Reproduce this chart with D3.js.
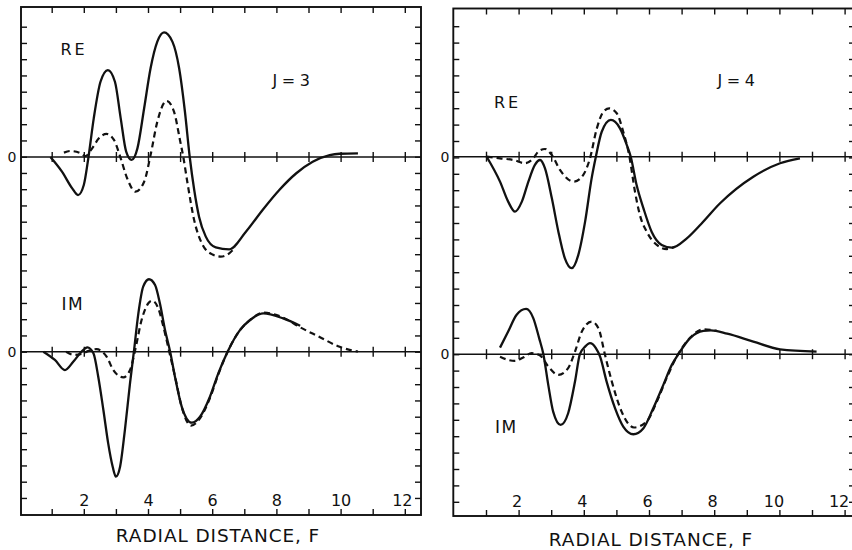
<!DOCTYPE html>
<html>
<head>
<meta charset="utf-8">
<script src="https://cdn.jsdelivr.net/npm/d3@7"></script>
<style>
  body { margin: 0; background: #fff; }
  svg { display: block; font-family: "DejaVu Sans", "Liberation Sans", sans-serif; }
  .domain { display: none; }
  .tick line { stroke: #111; stroke-width: 1.4; }
  .tick text { font-size: 16px; fill: #111; font-family: "DejaVu Sans", "Liberation Sans", sans-serif; }
</style>
</head>
<body>
<div id="wrapper"></div>
<script>

// 1. Data (x = radial distance in F, y = amplitude in tick units)

const xTickValues = [1, 2, 3, 4, 5, 6, 7, 8, 9, 10, 11, 12]
const xTickLabels = ["", "2", "", "4", "", "6", "", "8", "", "10", "", "12"]
const yTickValues = [-10, -9, -8, -7, -6, -5, -4, -3, -2, -1, 0, 1, 2, 3, 4, 5, 6, 7, 8, 9, 10,
                     11, 12, 13, 14, 15, 16, 17, 18, 19, 20, 21]
const panelTitles = ["J=3", "J=4"]
const partLabels = ["RE", "IM"]
const axisTitle = "RADIAL DISTANCE, F"

const j3ReSolid = [[0.96,0],[1.32,-0.9],[1.64,-1.93],[1.82,-2.34],[2.0,-1.72],[2.14,-0.08],[2.31,2.38],
  [2.52,4.63],[2.75,5.35],[2.97,4.63],[3.15,2.38],[3.32,0.33],[3.49,-0.18],[3.67,0.53],[3.88,3.0],
  [4.08,5.46],[4.29,7.1],[4.5,7.67],[4.76,7.1],[4.97,5.46],[5.15,2.8],[5.3,0],[5.44,-2.03],
  [5.59,-3.67],[5.8,-4.9],[6.11,-5.56],[6.53,-5.68],[7.05,-4.6],[7.57,-3.26],[8.09,-2.03],
  [8.62,-1.0],[9.13,-0.29],[9.66,0.12],[9.97,0.2],[10.54,0.22]]
const j3ReDashed = [[1.38,0.27],[1.58,0.37],[1.9,0.23],[2.05,0.06],[2.26,0.53],[2.47,1.15],
  [2.71,1.42],[2.94,1.05],[3.15,-0.08],[3.35,-1.31],[3.61,-2.13],[3.88,-1.52],[4.08,0.12],
  [4.29,2.17],[4.58,3.45],[4.81,2.79],[5.0,1.0],[5.1,0],[5.23,-1.6],[5.44,-3.9],[5.7,-5.4],
  [6.01,-6.0],[6.27,-6.13],[6.53,-5.93],[6.72,-5.55]]
const j3ImSolid = [[0.74,0],[1.1,-0.51],[1.41,-1.13],[1.67,-0.62],[1.93,0],[2.11,0.27],[2.3,-0.1],
  [2.45,-1.54],[2.61,-3.59],[2.76,-5.64],[2.9,-7.08],[3.0,-7.69],[3.13,-7.08],[3.28,-4.82],
  [3.44,-1.94],[3.56,0],[3.7,2.36],[3.85,4.0],[4.03,4.46],[4.22,4.1],[4.37,2.98],[4.53,1.34],
  [4.69,0],[4.84,-1.54],[5.05,-3.38],[5.36,-4.37],[5.62,-4.0],[5.93,-2.77],[6.19,-1.33],
  [6.48,0],[6.87,1.34],[7.18,1.95],[7.59,2.36],[8.21,2.05],[8.74,1.6]]
const j3ImDashed = [[1.45,0],[1.7,-0.2],[1.95,-0.12],[2.15,0.05],[2.4,0.16],[2.6,-0.05],
  [2.71,-0.3],[2.92,-1.13],[3.23,-1.58],[3.44,-1.13],[3.6,0.1],[3.8,1.95],[4.01,2.98],
  [4.13,3.14],[4.32,2.67],[4.48,1.54],[4.65,0.1],[4.84,-1.5],[5.05,-3.4],[5.34,-4.55],
  [5.62,-4.1],[5.93,-2.85],[6.19,-1.4],[6.48,0],[6.87,1.34],[7.18,1.95],[7.59,2.4],
  [8.21,2.1],[8.74,1.5],[9.3,0.95],[9.97,0.3],[10.54,0]]

const j4ReSolid = [[1.02,0],[1.43,-1.52],[1.68,-2.74],[1.89,-3.35],[2.1,-2.74],[2.3,-1.52],
  [2.5,-0.5],[2.66,-0.2],[2.81,-0.71],[3.02,-2.54],[3.22,-4.57],[3.42,-6.2],[3.63,-6.8],
  [3.83,-6.0],[4.04,-3.96],[4.24,-1.32],[4.37,0],[4.55,1.52],[4.83,2.24],[5.11,1.73],
  [5.32,0.71],[5.44,0],[5.62,-1.73],[5.83,-3.15],[6.08,-4.57],[6.39,-5.38],[6.7,-5.55],
  [7.16,-4.98],[7.6,-4.1],[8.18,-2.84],[9.2,-1.22],[10.02,-0.4],[10.63,-0.1]]
const j4ReDashed = [[1.02,0],[1.43,-0.1],[1.84,-0.2],[2.2,-0.4],[2.45,-0.1],[2.6,0.3],[2.81,0.47],
  [3.02,0.1],[3.27,-0.81],[3.7,-1.52],[3.98,-1.12],[4.19,-0.1],[4.4,1.73],[4.6,2.74],[4.78,2.95],
  [5.01,2.65],[5.21,1.52],[5.4,0],[5.57,-2.13],[5.72,-3.55],[5.93,-4.57],[6.24,-5.38],
  [6.54,-5.63],[6.8,-5.49]]
const j4ImSolid = [[1.43,0.4],[1.68,1.38],[1.94,2.4],[2.23,2.76],[2.45,2.2],[2.63,0.98],[2.76,0],
  [2.91,-1.87],[3.06,-3.5],[3.29,-4.31],[3.52,-3.6],[3.73,-1.67],[3.88,0],[4.04,0.46],
  [4.19,0.67],[4.37,0.37],[4.5,-0.15],[4.7,-1.67],[4.96,-3.3],[5.21,-4.41],[5.52,-4.88],
  [5.83,-4.51],[6.13,-3.3],[6.44,-1.87],[6.7,-0.65],[6.9,0],[7.26,0.98],[7.67,1.42],
  [7.9,1.45],[8.4,1.25],[9.2,0.77],[10.02,0.3],[11.14,0.16]]
const j4ImDashed = [[1.43,-0.15],[1.68,-0.35],[1.89,-0.41],[2.14,-0.2],[2.4,0.06],[2.66,-0.08],
  [2.91,-0.75],[3.22,-1.26],[3.52,-0.85],[3.73,0.16],[3.94,1.38],[4.24,1.99],[4.45,1.58],
  [4.65,-0.04],[4.86,-1.67],[5.16,-3.5],[5.54,-4.47],[5.93,-4.1],[6.24,-2.89],[6.54,-1.46],
  [6.85,-0.15],[7.26,1.0],[7.67,1.52],[8.08,1.42]]

// 2. Dimensions

const width = 852
const height = 550

const panels = [
  {
    title: panelTitles[0], re: [j3ReSolid, j3ReDashed], im: [j3ImSolid, j3ImDashed],
    left: 21, right: 421, top: 7, bottom: 515,
    xStart: 19.6, xUnit: 32.1, zeroRe: 157, zeroIm: 351.7, yUnit: 16.25,
    titlePos: [272.5, 86], rePos: [60.5, 55], imPos: [61.5, 310],
    zeroX: 12, axisTitlePos: [218, 541.5],
    labelShift: d => d === 12 ? -3 : 0,
  },
  {
    title: panelTitles[1], re: [j4ReSolid, j4ReDashed], im: [j4ImSolid, j4ImDashed],
    left: 453.3, right: 855, top: 8.5, bottom: 516,
    xStart: 453.4, xUnit: 32.6, zeroRe: 156.7, zeroIm: 354.2, yUnit: 16.4,
    titlePos: [717.5, 86], rePos: [494, 107.5], imPos: [495, 432.5],
    zeroX: 445, axisTitlePos: [651, 546],
    labelShift: d => d >= 10 ? -6 : -2,
  },
]

// 3. Draw canvas

const wrapper = d3.select("#wrapper")
  .append("svg")
    .attr("width", width)
    .attr("height", height)

wrapper.append("rect")
    .attr("width", width)
    .attr("height", height)
    .attr("fill", "#fff")

const ink = "#111"

panels.forEach(p => {
  const bounds = wrapper.append("g")

  // 4. Scales
  const xScale = d3.scaleLinear()
    .domain([0, 12])
    .range([p.xStart, p.xStart + 12 * p.xUnit])

  const yIm = d3.scaleLinear()
    .domain([0, 1])
    .range([p.zeroIm, p.zeroIm - p.yUnit])

  const yRe = d3.scaleLinear()
    .domain([0, 1])
    .range([p.zeroRe, p.zeroRe - p.yUnit])

  const frameTicks = yTickValues.filter(v => yIm(v) > p.top + 8 && yIm(v) < p.bottom - 6)

  // 5. Peripherals: frame, inward ticks, zero lines

  bounds.append("rect")
      .attr("x", p.left)
      .attr("y", p.top)
      .attr("width", p.right - p.left)
      .attr("height", p.bottom - p.top)
      .attr("fill", "none")
      .attr("stroke", ink)
      .attr("stroke-width", 1.9)

  bounds.append("g")
      .attr("transform", `translate(0, ${p.top})`)
      .call(d3.axisBottom(xScale).tickValues(xTickValues).tickSize(6).tickFormat(""))

  const bottomAxis = bounds.append("g")
      .attr("transform", `translate(0, ${p.bottom})`)
      .call(d3.axisTop(xScale)
        .tickValues(xTickValues)
        .tickSize(6)
        .tickPadding(3)
        .tickFormat((d, i) => xTickLabels[i]))

  bottomAxis.selectAll("text")
      .attr("dx", p.labelShift)

  bounds.append("g")
      .attr("transform", `translate(${p.left}, 0)`)
      .call(d3.axisRight(yIm).tickValues(frameTicks).tickSize(6).tickFormat(""))

  bounds.append("g")
      .attr("transform", `translate(${p.right}, 0)`)
      .call(d3.axisLeft(yIm).tickValues(frameTicks).tickSize(6).tickFormat(""))

  ;[p.zeroRe, p.zeroIm].forEach(z => {
    bounds.append("line")
        .attr("x1", p.left)
        .attr("x2", p.right)
        .attr("y1", z)
        .attr("y2", z)
        .attr("stroke", ink)
        .attr("stroke-width", 1.5)

    bounds.append("g")
        .attr("transform", `translate(0, ${z - 5})`)
        .call(d3.axisBottom(xScale).tickValues(xTickValues).tickSize(10).tickFormat(""))

    bounds.append("text")
        .attr("x", p.zeroX)
        .attr("y", z + 5)
        .attr("text-anchor", "middle")
        .attr("font-size", 14)
        .attr("fill", ink)
        .text("0")
  })

  // 6. Curves

  const reLine = d3.line()
    .x(d => xScale(d[0]))
    .y(d => yRe(d[1]))
    .curve(d3.curveMonotoneX)

  const imLine = d3.line()
    .x(d => xScale(d[0]))
    .y(d => yIm(d[1]))
    .curve(d3.curveMonotoneX)

  const drawPair = (series, lineGen) => {
    bounds.append("path")
        .attr("d", lineGen(series[1]))
        .attr("fill", "none")
        .attr("stroke", ink)
        .attr("stroke-width", 2.2)
        .attr("stroke-dasharray", "6,4")

    bounds.append("path")
        .attr("d", lineGen(series[0]))
        .attr("fill", "none")
        .attr("stroke", ink)
        .attr("stroke-width", 2.3)
  }
  drawPair(p.re, reLine)
  drawPair(p.im, imLine)

  // 7. Labels

  const label = (pos, txt, size, spacing) => bounds.append("text")
      .attr("x", pos[0])
      .attr("y", pos[1])
      .attr("font-size", size)
      .attr("letter-spacing", spacing)
      .attr("fill", ink)
      .text(txt)

  label(p.rePos, partLabels[0], 16, 3)
  label(p.imPos, partLabels[1], 17, 1.5)
  label(p.titlePos, p.title, 16, 4.5)

  bounds.append("text")
      .attr("x", p.axisTitlePos[0])
      .attr("y", p.axisTitlePos[1])
      .attr("text-anchor", "middle")
      .attr("font-size", 18.5)
      .attr("letter-spacing", 0.9)
      .attr("fill", ink)
      .text(axisTitle)
})

</script>
</body>
</html>
